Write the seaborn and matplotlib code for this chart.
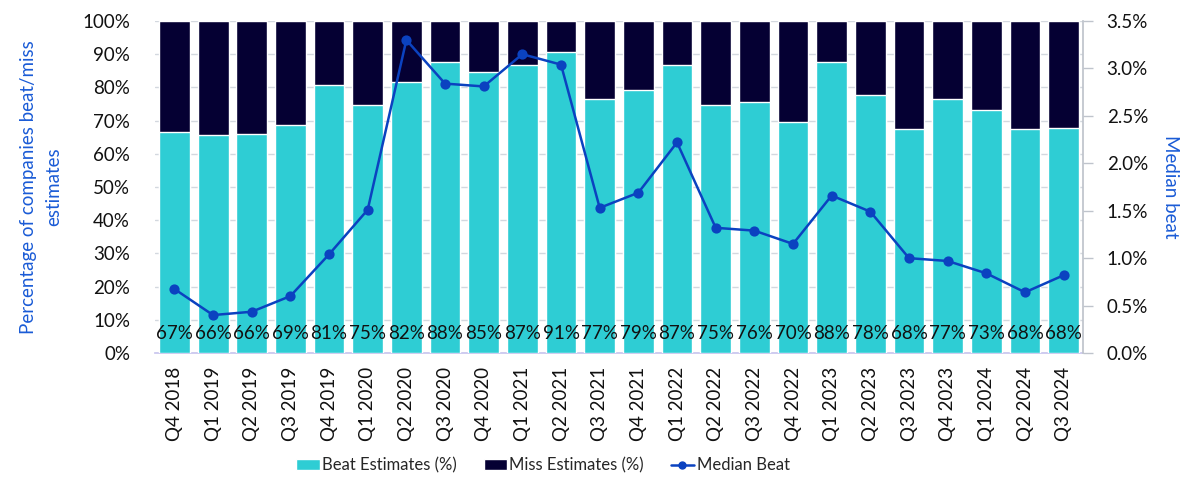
import numpy as np
import pandas as pd
import matplotlib
matplotlib.use("Agg")
import matplotlib.pyplot as plt
import seaborn as sns
from matplotlib.patches import Patch
from matplotlib.lines import Line2D
from matplotlib.ticker import FuncFormatter, MultipleLocator

quarters = ["Q4 2018", "Q1 2019", "Q2 2019", "Q3 2019", "Q4 2019", "Q1 2020",
            "Q2 2020", "Q3 2020", "Q4 2020", "Q1 2021", "Q2 2021", "Q3 2021",
            "Q4 2021", "Q1 2022", "Q2 2022", "Q3 2022", "Q4 2022", "Q1 2023",
            "Q2 2023", "Q3 2023", "Q4 2023", "Q1 2024", "Q2 2024", "Q3 2024"]
beat_pct = [66.6, 65.8, 66.1, 68.7, 80.7, 74.7, 81.6, 87.7, 84.6, 86.6, 90.6, 76.6,
            79.1, 86.6, 74.6, 75.6, 69.6, 87.7, 77.6, 67.6, 76.6, 73.3, 67.6, 67.8]
miss_pct = [100 - b for b in beat_pct]
median_beat = [0.675, 0.40, 0.435, 0.60, 1.04, 1.51, 3.30, 2.84, 2.81, 3.15, 3.04, 1.53,
               1.69, 2.22, 1.32, 1.29, 1.15, 1.66, 1.49, 1.00, 0.97, 0.84, 0.64, 0.82]

BEAT_C = "#2ECDD4"
MISS_C = "#050033"
LINE_C = "#0B42C0"
LABEL_C = "#1A5BD6"
GRID_C = "#D3D8DF"

sns.set_theme(style="white")
plt.rcParams["font.family"] = ["Lato", "DejaVu Sans"]

df = pd.DataFrame({"quarter": quarters, "beat": beat_pct, "miss": miss_pct,
                   "median": median_beat})
df["total"] = df["beat"] + df["miss"]

fig, ax = plt.subplots(figsize=(12, 4.94), dpi=100)
fig.subplots_adjust(left=0.1292, right=0.9025, top=0.9575, bottom=0.2854)

sns.barplot(data=df, x="quarter", y="total", color=MISS_C, saturation=1,
            width=0.8, ax=ax, zorder=2)
sns.barplot(data=df, x="quarter", y="beat", color=BEAT_C, saturation=1,
            width=0.8, ax=ax, zorder=3)

for i, b in enumerate(beat_pct):
    ax.text(i, 6.0, f"{int(b + 0.5)}%", ha="center", va="center", fontsize=13.5,
            color="#111111", zorder=5)

ax.set_ylim(0, 100)
ax.set_xlim(-0.5, len(quarters) - 0.5)
ax.yaxis.set_major_locator(MultipleLocator(10))
ax.yaxis.set_major_formatter(FuncFormatter(lambda v, p: f"{v:.0f}%"))
ax.grid(axis="y", color=GRID_C, linewidth=1, zorder=0)
ax.set_axisbelow(True)
for s in ["top", "left", "right"]:
    ax.spines[s].set_visible(False)
ax.spines["bottom"].set_color("#C9C6EE")
ax.tick_params(axis="y", length=0, labelsize=13.5, colors="#111111", pad=18)
ax.tick_params(axis="x", length=0, labelsize=13.5, colors="#111111", rotation=90, pad=10)
ax.set_xlabel("")
ax.set_ylabel("Percentage of companies beat/miss\nestimates", color=LABEL_C,
              fontsize=13.5, labelpad=14, linespacing=1.6)

ax2 = ax.twinx()
sns.pointplot(data=df, x="quarter", y="median", color=LINE_C, markers="o",
              linestyles="-", markersize=6, linewidth=1.8, ax=ax2, zorder=6)
ax2.set_xlim(-0.5, len(quarters) - 0.5)
ax2.set_ylim(0, 3.5)
ax2.yaxis.set_major_locator(MultipleLocator(0.5))
ax2.yaxis.set_major_formatter(FuncFormatter(lambda v, p: f"{v:.1f}%"))
ax2.grid(False)
for s in ["top", "left", "bottom"]:
    ax2.spines[s].set_visible(False)
ax2.spines["right"].set_color("#BFC4CC")
ax2.tick_params(axis="y", length=7, width=1, color="#BFC4CC", labelsize=13.5,
                labelcolor="#111111", pad=10, right=True)
ax2.set_ylabel("Median beat", color=LABEL_C, fontsize=13.5, rotation=270,
               labelpad=22)
ax2.set_xlabel("")

handles = [Patch(facecolor=BEAT_C, label="Beat Estimates (%)"),
           Patch(facecolor=MISS_C, label="Miss Estimates (%)"),
           Line2D([0], [0], color=LINE_C, marker="o", markersize=5, lw=1.8,
                  label="Median Beat")]
fig.legend(handles=handles, loc="center", bbox_to_anchor=(0.4525, 0.058), ncol=3,
           frameon=False, fontsize=12, handlelength=1.4, handletextpad=0.15,
           columnspacing=1.6)

fig.savefig("out.png", dpi=100)
